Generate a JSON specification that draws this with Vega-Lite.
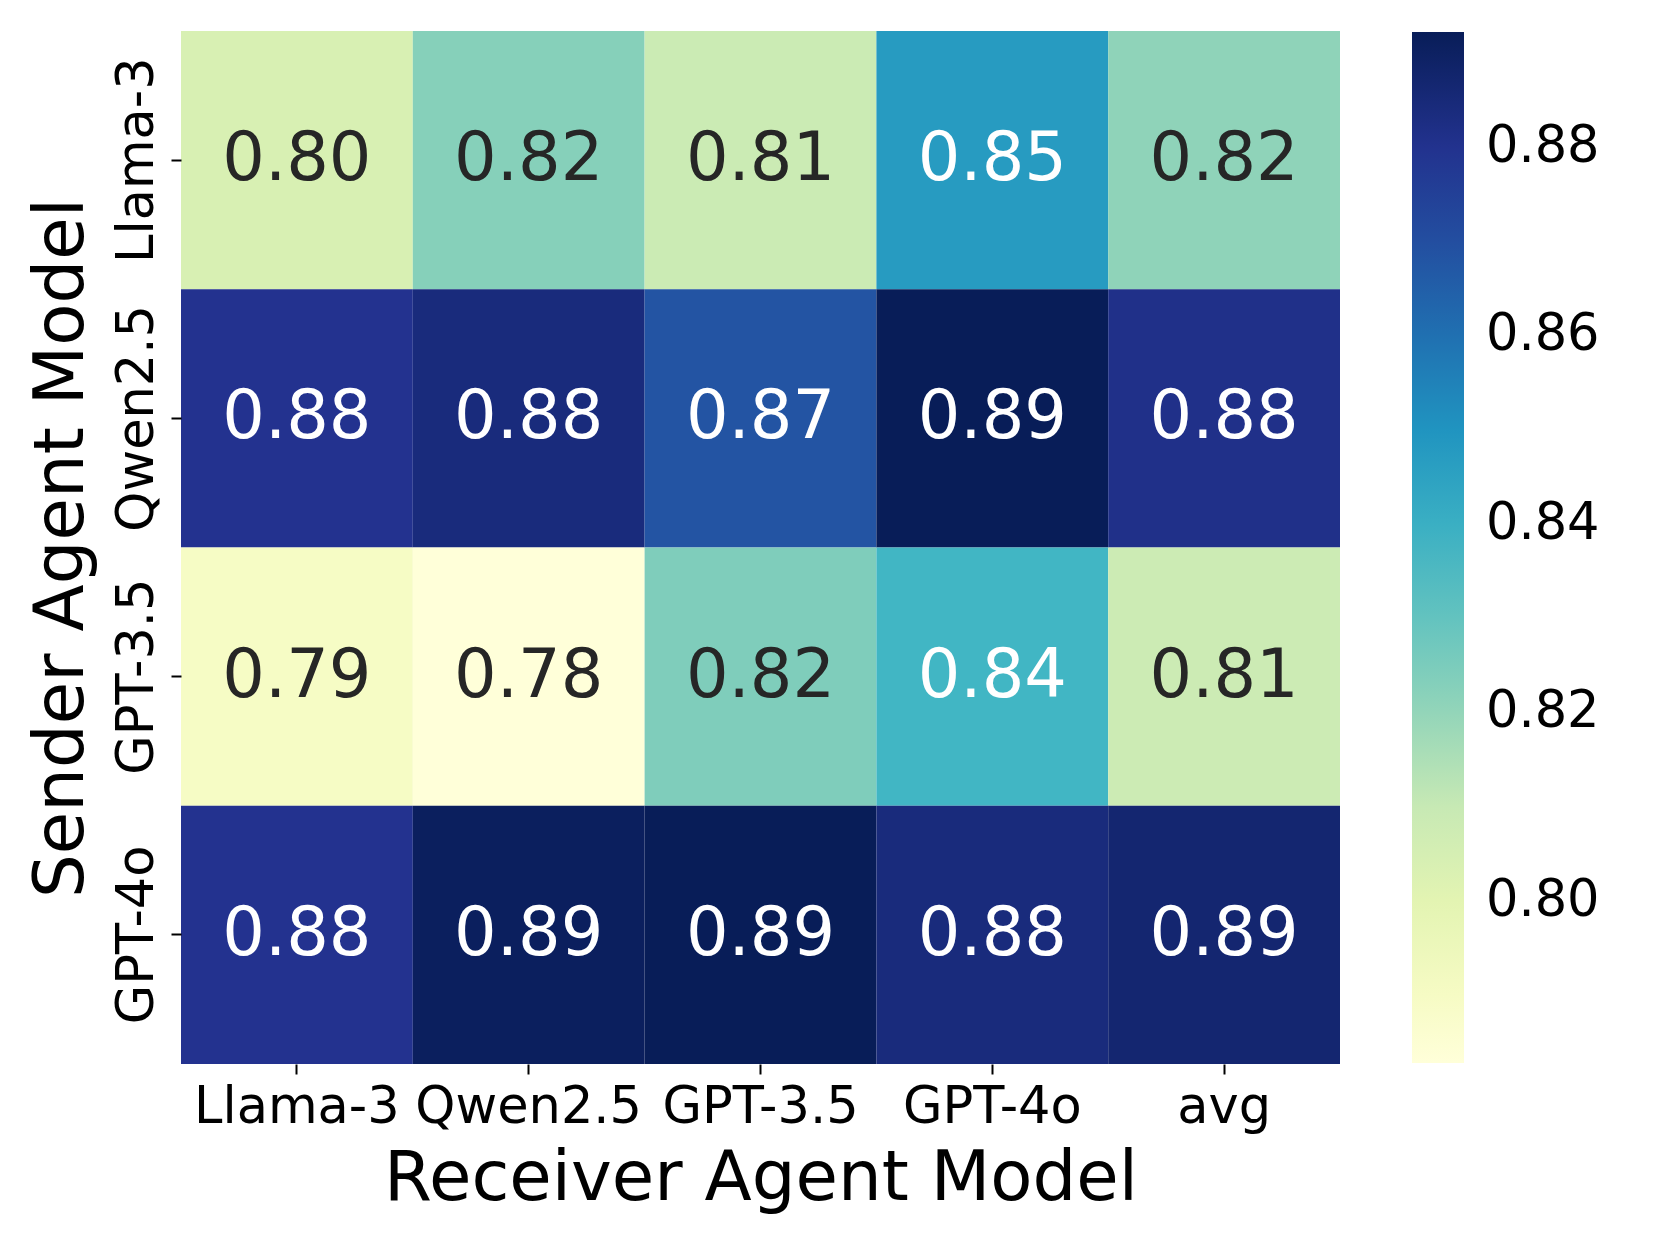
{
  "$schema": "https://vega.github.io/schema/vega-lite/v6.json",
  "autosize": "none",
  "padding": {"left": 181, "top": 31, "right": 321, "bottom": 182},
  "width": 1159,
  "height": 1033,
  "background": "white",
  "config": {"view": {"stroke": null}, "font": "DejaVu Sans"},
  "data": {
    "values": [
      {"sender": "Llama-3", "receiver": "Llama-3", "value": 0.804},
      {"sender": "Llama-3", "receiver": "Qwen2.5", "value": 0.8225},
      {"sender": "Llama-3", "receiver": "GPT-3.5", "value": 0.8087},
      {"sender": "Llama-3", "receiver": "GPT-4o", "value": 0.8474},
      {"sender": "Llama-3", "receiver": "avg", "value": 0.8207},
      {"sender": "Qwen2.5", "receiver": "Llama-3", "value": 0.8797},
      {"sender": "Qwen2.5", "receiver": "Qwen2.5", "value": 0.8841},
      {"sender": "Qwen2.5", "receiver": "GPT-3.5", "value": 0.8681},
      {"sender": "Qwen2.5", "receiver": "GPT-4o", "value": 0.8922},
      {"sender": "Qwen2.5", "receiver": "avg", "value": 0.881},
      {"sender": "GPT-3.5", "receiver": "Llama-3", "value": 0.7896},
      {"sender": "GPT-3.5", "receiver": "Qwen2.5", "value": 0.7828},
      {"sender": "GPT-3.5", "receiver": "GPT-3.5", "value": 0.8238},
      {"sender": "GPT-3.5", "receiver": "GPT-4o", "value": 0.8375},
      {"sender": "GPT-3.5", "receiver": "avg", "value": 0.8084},
      {"sender": "GPT-4o", "receiver": "Llama-3", "value": 0.8797},
      {"sender": "GPT-4o", "receiver": "Qwen2.5", "value": 0.8908},
      {"sender": "GPT-4o", "receiver": "GPT-3.5", "value": 0.8921},
      {"sender": "GPT-4o", "receiver": "GPT-4o", "value": 0.8841},
      {"sender": "GPT-4o", "receiver": "avg", "value": 0.8867}
    ]
  },
  "encoding": {
    "x": {
      "field": "receiver", "type": "nominal",
      "sort": ["Llama-3", "Qwen2.5", "GPT-3.5", "GPT-4o", "avg"],
      "scale": {"paddingInner": 0, "paddingOuter": 0},
      "axis": {
        "title": "Receiver Agent Model", "titleFontSize": 69, "titleFontWeight": "normal",
        "titleColor": "black", "titleBaseline": "alphabetic", "titleY": 135,
        "labelFontSize": 51, "labelColor": "black", "labelAngle": 0, "labelPadding": 8,
        "labelLimit": 0, "labelOverlap": false,
        "domain": false, "ticks": true, "tickSize": 10, "tickWidth": 2, "tickColor": "black",
        "grid": false
      }
    },
    "y": {
      "field": "sender", "type": "nominal",
      "sort": ["Llama-3", "Qwen2.5", "GPT-3.5", "GPT-4o"],
      "scale": {"paddingInner": 0, "paddingOuter": 0},
      "axis": {
        "title": "Sender Agent Model", "titleFontSize": 69, "titleFontWeight": "normal",
        "titleColor": "black", "titleAngle": 270, "titleBaseline": "alphabetic", "titleX": -99,
        "labelFontSize": 51, "labelColor": "black", "labelAngle": 270, "labelAlign": "center",
        "labelBaseline": "bottom", "labelPadding": 8, "labelLimit": 0, "labelOverlap": false,
        "domain": false, "ticks": true, "tickSize": 10, "tickWidth": 2, "tickColor": "black",
        "grid": false
      }
    }
  },
  "layer": [
    {
      "mark": {"type": "rect"},
      "encoding": {
        "color": {
          "field": "value", "type": "quantitative",
          "scale": {
            "domain": [0.7828, 0.796475, 0.81015, 0.823825, 0.8375, 0.851175, 0.86485, 0.878525, 0.8922],
            "range": ["#ffffd9", "#edf8b1", "#c7e9b4", "#7fcdbb", "#41b6c4", "#1d91c0", "#225ea8", "#253494", "#081d58"],
            "interpolate": "rgb"
          },
          "legend": {
            "title": null, "orient": "none", "legendX": 1231, "legendY": 1, "padding": 0,
            "direction": "vertical",
            "gradientLength": 1031, "gradientThickness": 52, "gradientStrokeWidth": 0,
            "values": [0.80, 0.82, 0.84, 0.86, 0.88],
            "format": ".2f", "labelFontSize": 51, "labelColor": "black", "labelOffset": 22,
            "labelOverlap": false
          }
        }
      }
    },
    {
      "mark": {"type": "text", "fontSize": 67, "font": "DejaVu Sans"},
      "encoding": {
        "text": {"field": "value", "type": "quantitative", "format": ".2f"},
        "color": {
          "condition": {"test": "datum.value > 0.83", "value": "white"},
          "value": "#262626"
        }
      }
    }
  ]
}
